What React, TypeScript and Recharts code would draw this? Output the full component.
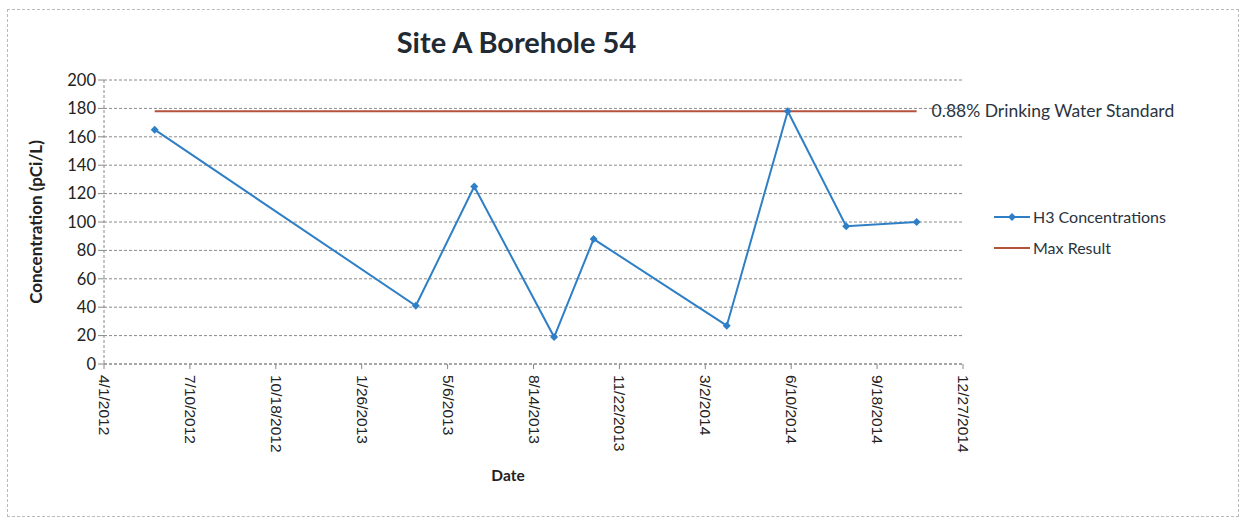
import { LineChart, Line, XAxis, YAxis, CartesianGrid, LabelList } from "recharts";

const sampleDates = [
  "2012-05-30", "2013-03-30", "2013-06-06", "2013-09-07", "2013-10-23",
  "2014-03-27", "2014-06-06", "2014-08-13", "2014-11-03",
];
const h3Values = [165, 41, 125, 19, 88, 27, 178, 97, 100];
const maxResult = 178;
const yTicks = [0, 20, 40, 60, 80, 100, 120, 140, 160, 180, 200];
const xTickDates = [
  "2012-04-01", "2012-07-10", "2012-10-18", "2013-01-26", "2013-05-06", "2013-08-14",
  "2013-11-22", "2014-03-02", "2014-06-10", "2014-09-18", "2014-12-27",
];

const BLUE = "#2f7fc6";
const RED = "#b4523c";
const FONT = "Lato, 'Open Sans', sans-serif";

const toTime = (s: string) => Date.parse(s + "T00:00:00Z");
const fmtDate = (t: number) => {
  const d = new Date(t);
  return `${d.getUTCMonth() + 1}/${d.getUTCDate()}/${d.getUTCFullYear()}`;
};

const data = sampleDates.map((s, i) => ({
  t: toTime(s),
  h3: h3Values[i],
  max: maxResult,
}));
const xTicks = xTickDates.map(toTime);

const Diamond = (props: any) => {
  const { cx, cy } = props;
  if (cx == null || cy == null) return null;
  const r = 4;
  return (
    <polygon
      points={`${cx},${cy - r} ${cx + r},${cy} ${cx},${cy + r} ${cx - r},${cy}`}
      fill={BLUE}
    />
  );
};

const XTick = (props: any) => {
  const { x, y, payload } = props;
  return (
    <text
      x={x}
      y={y}
      transform={`rotate(90, ${x}, ${y})`}
      dx={4}
      dy={5}
      textAnchor="start"
      fontSize={15.5}
      fill="#222"
      fontFamily="'Liberation Sans', Arial, sans-serif"
    >
      {fmtDate(payload.value)}
    </text>
  );
};

const StdLabel = (props: any) => {
  const { x, y, index } = props;
  if (index !== data.length - 1) return null;
  return (
    <text x={x + 15} y={y + 6} fontSize={17.5} fill="#2a3440" fontFamily={FONT}>
      0.88% Drinking Water Standard
    </text>
  );
};

const LegendBox = () => (
  <div style={{ position: "absolute", left: 994, top: 201, fontFamily: FONT, fontSize: 16, color: "#2a3440" }}>
    <div style={{ display: "flex", alignItems: "center", height: 31 }}>
      <svg width={36} height={10}>
        <line x1={0} y1={5} x2={36} y2={5} stroke={BLUE} strokeWidth={2} />
        <polygon points="18,1 22,5 18,9 14,5" fill={BLUE} />
      </svg>
      <span style={{ marginLeft: 3 }}>H3 Concentrations</span>
    </div>
    <div style={{ display: "flex", alignItems: "center", height: 31 }}>
      <svg width={36} height={10}>
        <line x1={0} y1={5} x2={36} y2={5} stroke={RED} strokeWidth={2} />
      </svg>
      <span style={{ marginLeft: 3 }}>Max Result</span>
    </div>
  </div>
);

export default function App() {
  return (
    <div style={{ position: "absolute", left: 0, top: 0, width: 1244, height: 521, background: "#fff" }}>
      <div
        style={{
          position: "absolute", left: 7, top: 9, width: 1232, height: 508,
          border: "1px dashed #bbb", boxSizing: "border-box",
        }}
      />
      <div
        style={{
          position: "absolute", left: 0, width: 1033, top: 24, textAlign: "center",
          fontFamily: FONT, fontWeight: 700, fontSize: 29, color: "#1f2a33",
        }}
      >
        Site A Borehole 54
      </div>
      <div
        style={{
          position: "absolute", left: 458, width: 100, top: 466, textAlign: "center",
          fontFamily: FONT, fontWeight: 700, fontSize: 15.5, color: "#222",
        }}
      >
        Date
      </div>
      <LineChart
        width={1244}
        height={521}
        data={data}
        margin={{ top: 80, right: 281, bottom: 37, left: 34 }}
        style={{ position: "absolute", left: 0, top: 0 }}
      >
        <CartesianGrid vertical={false} stroke="#8a8a8a" strokeDasharray="3 2" />
        <XAxis
          dataKey="t"
          type="number"
          domain={[xTicks[0], xTicks[xTicks.length - 1]]}
          ticks={xTicks}
          interval={0}
          tick={<XTick />}
          tickLine={{ stroke: "#888" }}
          tickSize={5}
          axisLine={{ stroke: "#888", strokeDasharray: "3 2" }}
          height={120}
        />
        <YAxis
          domain={[0, 200]}
          ticks={yTicks}
          interval={0}
          width={70}
          tickSize={6}
          tickLine={{ stroke: "#888" }}
          axisLine={{ stroke: "#888", strokeDasharray: "3 2" }}
          tick={{ fontSize: 16.5, fill: "#222", fontFamily: FONT }}
          label={{
            value: "Concentration (pCi/L)", angle: -90, position: "insideLeft", offset: 2,
            style: { textAnchor: "middle", fontFamily: FONT, fontWeight: 700, fontSize: 17, fill: "#222" },
          }}
        />
        <Line
          dataKey="h3"
          name="H3 Concentrations"
          stroke={BLUE}
          strokeWidth={2}
          dot={<Diamond />}
          activeDot={false}
          isAnimationActive={false}
        />
        <Line
          dataKey="max"
          name="Max Result"
          stroke={RED}
          strokeWidth={2}
          dot={false}
          activeDot={false}
          isAnimationActive={false}
        >
          <LabelList dataKey="max" content={<StdLabel />} />
        </Line>
      </LineChart>
      <LegendBox />
    </div>
  );
}
